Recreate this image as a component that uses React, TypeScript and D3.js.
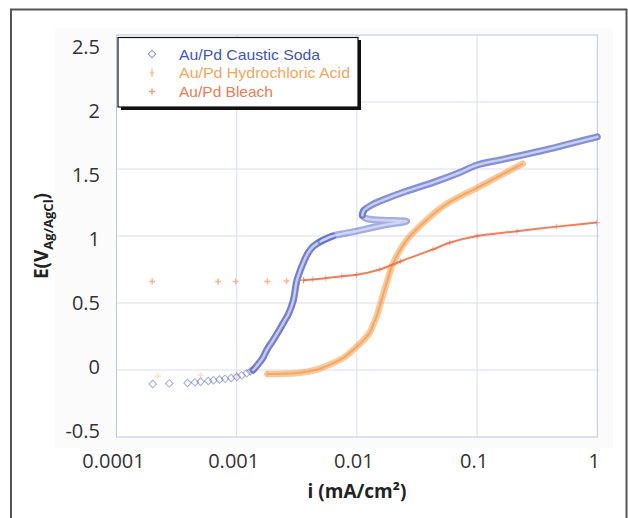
import React from 'react';
import * as d3 from 'd3';

// polarisation curves, current density (mA/cm2) vs potential (V vs Ag/AgCl)
const causticI = [0.0002, 0.000275, 0.00039, 0.00045, 0.0005, 0.00058, 0.00064, 0.00072, 0.0008, 0.0009, 0.001, 0.0011, 0.00121, 0.0013, 0.00137,
  0.0015, 0.00165, 0.00178, 0.002, 0.0022, 0.00244, 0.0027, 0.00296, 0.00315, 0.0034, 0.00358, 0.0039, 0.0043, 0.005, 0.0063, 0.008, 0.0099, 0.013, 0.0177, 0.026,
  0.02, 0.015, 0.012, 0.0111, 0.0114, 0.0135, 0.0166, 0.025, 0.0433, 0.07, 0.1, 0.16, 0.242, 0.4, 0.6, 1.0];
const causticE = [-0.105, -0.1, -0.097, -0.092, -0.088, -0.082, -0.076, -0.071, -0.066, -0.06, -0.052, -0.04, -0.025, -0.01, 0.0,
  0.04, 0.09, 0.15, 0.22, 0.28, 0.35, 0.42, 0.52, 0.66, 0.75, 0.8, 0.87, 0.92, 0.96, 1.0, 1.02, 1.036, 1.06, 1.086, 1.11,
  1.115, 1.12, 1.13, 1.155, 1.19, 1.235, 1.27, 1.33, 1.4, 1.47, 1.53, 1.57, 1.605, 1.65, 1.69, 1.74];

const hclI = [0.00022, 0.0005, 0.001, 0.0018, 0.0034, 0.0045, 0.0063, 0.008, 0.0093, 0.011, 0.0128, 0.0137, 0.0146, 0.016, 0.0177, 0.0201, 0.026, 0.038, 0.056, 0.1, 0.155, 0.24];
const hclE = [-0.045, -0.04, -0.035, -0.03, -0.02, 0.0, 0.05, 0.1, 0.15, 0.21, 0.28, 0.34, 0.4, 0.52, 0.65, 0.8, 0.97, 1.12, 1.24, 1.36, 1.45, 1.54];

const bleachI = [0.000198, 0.0007, 0.00098, 0.0018, 0.0026, 0.0036, 0.0043, 0.0055, 0.0075, 0.0099, 0.0155, 0.023, 0.043, 0.059, 0.1, 0.215, 0.46, 0.99];
const bleachE = [0.66, 0.66, 0.66, 0.66, 0.665, 0.67, 0.675, 0.685, 0.7, 0.71, 0.75, 0.81, 0.9, 0.95, 1.0, 1.035, 1.07, 1.1];

const xTicks = [0.0001, 0.001, 0.01, 0.1, 1];
const xTickLabels = ['0.0001', '0.001', '0.01', '0.1', '1'];
const yTicks = [-0.5, 0, 0.5, 1, 1.5, 2, 2.5];
const yTickLabels = ['-0.5', '0', '0.5', '1', '1.5', '2', '2.5'];
const legendNames = ['Au/Pd Caustic Soda', 'Au/Pd Hydrochloric Acid', 'Au/Pd Bleach'];

const zip = (xs: number[], ys: number[]) => xs.map((v, i) => ({ i: v, e: ys[i] }));

const App = () => {
  const width = 628;
  const height = 518;

  const x = d3.scaleLog().domain([0.0001, 1]).range([116.5, 597.3]);
  const y = d3.scaleLinear().domain([-0.5, 2.5]).range([437, 35]);
  // tick labels in the source sit on a slightly compressed scale
  const yLab = d3.scaleLinear().domain([-0.5, 2.5]).range([430, 46.7]);

  const caustic = zip(causticI, causticE);
  const hcl = zip(hclI, hclE);
  const bleach = zip(bleachI, bleachE);

  const line = d3.line<{ i: number; e: number }>()
    .x(d => x(d.i))
    .y(d => y(d.e))
    .curve(d3.curveCatmullRom.alpha(0.5));

  const causticSparse = caustic.slice(0, 15);
  // steep rise, passive plateau + reversal, transpassive branch
  const causticSegs = [
    { pts: caustic.slice(14, 30), op: 0.85 },
    { pts: caustic.slice(28, 40), op: 0.55 },
    { pts: caustic.slice(38), op: 0.75 },
  ];
  const hclSparse = hcl.filter(d => d.i < 0.003);
  const hclDense = hcl.filter(d => d.i >= 0.0018);
  const bleachSparse = bleach.filter(d => d.i < 0.004);
  const bleachDense = bleach.filter(d => d.i >= 0.0036);

  const diamond = d3.symbol(d3.symbolSquare, 28)();

  const blue = '#5a69c9';
  const orange = '#f7a456';
  const red = '#f0683c';

  return (
    <svg width={width} height={height} style={{ position: 'absolute', left: 0, top: 0, fontFamily: '"Open Sans", sans-serif' }}>
      <rect x={0} y={0} width={width} height={height} fill="#ffffff" />
      <rect x={55} y={28} width={558} height={420} fill="#fbfbfb" />
      <rect x={11} y={9.5} width={615.5} height={520} fill="none" stroke="#555" strokeWidth={2} />

      {/* plot area */}
      <rect x={x(0.0001)} y={y(2.5)} width={x(1) - x(0.0001)} height={y(-0.5) - y(2.5)} fill="#fff" />
      <g stroke="#d9dcf4" strokeWidth={1}>
        {yTicks.slice(1, -1).map(t => (
          <line key={t} x1={x(0.0001)} x2={x(1) + 2} y1={y(t)} y2={y(t)} />
        ))}
        {xTicks.slice(1, -1).map(t => (
          <line key={t} x1={x(t)} x2={x(t)} y1={y(2.5)} y2={y(-0.5)} />
        ))}
      </g>
      <rect x={x(0.0001)} y={y(2.5)} width={x(1) - x(0.0001)} height={y(-0.5) - y(2.5)} fill="none" stroke="#bcc3ec" strokeWidth={1} />

      {/* hydrochloric acid */}
      <g>
        {hclSparse.map((d, k) => (
          <path key={k} d="M-3,0H3M0,-3V3" transform={`translate(${x(d.i)},${y(d.e)})`} stroke={orange} strokeOpacity={0.35} strokeWidth={1.5} />
        ))}
        <path d={line(hclDense) || ''} fill="none" stroke={orange} strokeWidth={6.5} strokeOpacity={0.6} strokeLinecap="round" />
        <path d={line(hclDense) || ''} fill="none" stroke="#f28a22" strokeWidth={2} strokeOpacity={0.5} />
      </g>

      {/* bleach */}
      <g>
        {bleachSparse.map((d, k) => (
          <path key={k} d="M-3,0H3M0,-3V3" transform={`translate(${x(d.i)},${y(d.e)})`} stroke="#f7a07a" strokeOpacity={0.8} strokeWidth={1.5} />
        ))}
        <path d={line(bleachDense) || ''} fill="none" stroke={red} strokeWidth={2} strokeOpacity={0.85} />
        {bleachDense.map((d, k) => (
          <path key={k} d="M-3,0H3M0,-3V3" transform={`translate(${x(d.i)},${y(d.e)})`} stroke={red} strokeOpacity={0.5} strokeWidth={1} />
        ))}
      </g>

      {/* caustic soda */}
      <g>
        {causticSparse.map((d, k) => (
          <path key={k} d={diamond || ''} transform={`translate(${x(d.i)},${y(d.e)}) rotate(45)`} fill="none" stroke={blue} strokeOpacity={0.55} strokeWidth={1} />
        ))}
        {causticSegs.map((s, k) => (
          <g key={k}>
            <path d={line(s.pts) || ''} fill="none" stroke={blue} strokeWidth={7} strokeOpacity={s.op} strokeLinecap="round" strokeLinejoin="round" />
            <path d={line(s.pts) || ''} fill="none" stroke="#dadef6" strokeWidth={2.5} strokeOpacity={0.8} strokeLinecap="round" strokeLinejoin="round" />
          </g>
        ))}
      </g>

      {/* legend */}
      <rect x={121} y={40} width={240} height={70} fill="#111" />
      <rect x={118} y={37.5} width={240} height={69.5} fill="#fff" stroke="#111" strokeWidth={1.2} />
      {legendNames.map((name, k) => {
        const ly = 54 + k * 18.8;
        const col = ['#3d55c8', '#f6a65c', '#f07a55'][k];
        const w = [141, 171, 94][k];
        return (
          <g key={name}>
            {k === 0 && <path d={diamond || ''} transform={`translate(152,${ly}) rotate(45)`} fill="none" stroke="#8e98dc" strokeWidth={1} />}
            {k === 1 && <path d="M-2,0H2M0,-4V4" transform={`translate(152,${ly})`} stroke="#f9c090" strokeWidth={1.5} />}
            {k === 2 && <path d="M-3,0H3M0,-3V3" transform={`translate(152,${ly})`} stroke="#f7a07a" strokeWidth={1.5} />}
            <text x={179} y={ly} dominantBaseline="central" fontSize={15} textLength={w} lengthAdjust="spacingAndGlyphs"
              fill={col} fontFamily='"Liberation Sans", Arial, sans-serif'>{name}</text>
          </g>
        );
      })}

      {/* axes labels */}
      <g fill="#333" fontSize={20}>
        {yTicks.map((t, k) => (
          <text key={t} x={100} y={yLab(t)} textAnchor="end" dominantBaseline="central">{yTickLabels[k]}</text>
        ))}
        {xTicks.map((t, k) => (
          <text key={t} x={x(t) - 3} y={460} textAnchor="middle" dominantBaseline="central">{xTickLabels[k]}</text>
        ))}
      </g>
      <text x={357} y={498} textAnchor="middle" fontSize={19} fontWeight="bold" fill="#222">i (mA/cm²)</text>
      <text transform="translate(48,236) rotate(-90)" textAnchor="middle" fontSize={19} fontWeight="bold" fill="#222">
        E(V<tspan fontSize={13} dy={5}>Ag/AgCl</tspan><tspan dy={-5}>)</tspan>
      </text>
    </svg>
  );
};

export default App;
